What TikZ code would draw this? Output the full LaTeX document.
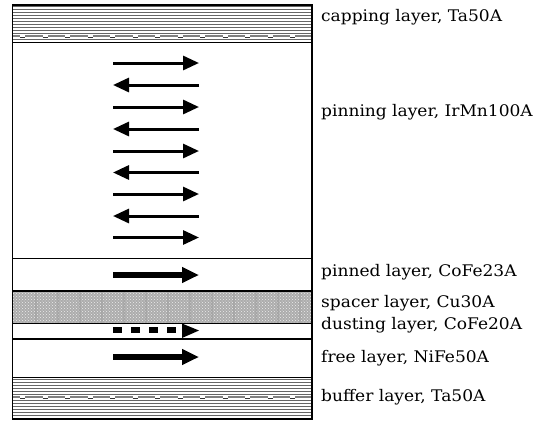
\documentclass[tikz,border=0pt]{standalone}
\usepackage{fontspec}
\setmainfont{DejaVu Serif}
\usetikzlibrary{arrows.meta,patterns}
\newcommand{\wide}[1]{\scalebox{1.065}[1]{#1}}
\begin{document}
\begin{tikzpicture}[x=1pt,y=-1pt,
  layer/.style={draw=black,line width=1.3pt,inner sep=0pt,outer sep=0pt},
  hatch/.style={draw=black!60,line width=1.3pt},
  lbl/.style={anchor=west,inner sep=0pt,font=\fontsize{16}{18}\selectfont},
  thinarrow/.style={line width=3pt,-{Triangle[length=16pt,width=14pt]}},
  thickarrow/.style={line width=5.5pt,-{Triangle[length=17pt,width=15pt]}}]
\useasboundingbox (0,0) rectangle (544,421);
% capping layer
\fill[white] (12.5,5) rectangle (312,42.5);
\foreach \y in {6.5,9.5,...,41} \draw[hatch] (12.5,\y) -- (312,\y);
\draw[draw=black!50,line width=2.5pt] (12.5,36) -- (312,36);
\foreach \x in {20,42.5,...,300} {\fill[white] (\x,34.8) rectangle (\x+5,36.6); \draw[black!80,line width=0.6pt] (\x,37) -- (\x+5,37);}
\node[layer,minimum width=299.5pt,minimum height=37.5pt,anchor=north west] (cap) at (12.5,5) {};
% pinning
\node[layer,minimum width=299.5pt,minimum height=216pt,anchor=north west] (pin) at (12.5,42.5) {};
% pinned
\node[layer,minimum width=299.5pt,minimum height=32.5pt,anchor=north west] (pinned) at (12.5,258.5) {};
% spacer
\node[layer,fill=gray!65,minimum width=299.5pt,minimum height=32.5pt,anchor=north west] (spacer) at (12.5,291) {};
\fill[pattern=crosshatch dots,pattern color=white!85!gray] (12.5,291.6) rectangle (312,322.9);
\foreach \x in {35,57,...,300} \fill[gray!80,opacity=0.4] (\x,291.6) rectangle (\x+2,322.9);
\draw[line width=1.3pt] (spacer.north west) rectangle (spacer.south east);
% dusting
\node[layer,minimum width=299.5pt,minimum height=15.5pt,anchor=north west] (dust) at (12.5,323.5) {};
% free
\node[layer,minimum width=299.5pt,minimum height=38.5pt,anchor=north west] (free) at (12.5,339) {};
% buffer
\fill[white] (12.5,377.5) rectangle (312,419);
\foreach \y in {379.5,382.5,...,418} \draw[hatch] (12.5,\y) -- (312,\y);
\draw[draw=black!50,line width=2.5pt] (12.5,397) -- (312,397);
\foreach \x in {20,42.5,...,300} {\fill[white] (\x,395.8) rectangle (\x+5,397.6); \draw[black!80,line width=0.6pt] (\x,398) -- (\x+5,398);}
\node[layer,minimum width=299.5pt,minimum height=41.5pt,anchor=north west] (buf) at (12.5,377.5) {};
% outer sides
\draw[line width=2pt] (cap.north east) -- (buf.south east);
\draw[line width=1.3pt] (cap.north west) -- (buf.south west);
% arrows pinning layer
\foreach \y [count=\i] in {63,85,107,129,151,172.5,194,216,237.5} {
  \ifodd\i
    \draw[thinarrow] (113,\y) -- (199,\y);
  \else
    \draw[thinarrow] (199,\y) -- (113,\y);
  \fi
}
% pinned arrow
\draw[thickarrow] (113,275) -- (199,275);
% dusting arrow
\foreach \x in {113,131,149,167} \fill (\x,327) rectangle (\x+8.5,332.5);
\fill (182,323.5) -- (199,330.5) -- (182,338) -- cycle;
% free arrow
\draw[thickarrow] (113,357) -- (199,357);
% labels
\node[lbl] (lcap) at (321,17) {\wide{capping layer, Ta50A}};
\node[lbl] (lpin) at (321,112) {\wide{pinning layer, IrMn100A}};
\node[lbl] (lpinned) at (321,272) {\wide{pinned layer, CoFe23A}};
\node[lbl] (lspacer) at (321,303) {\wide{spacer layer, Cu30A}};
\node[lbl] (ldust) at (321,325) {\wide{dusting layer, CoFe20A}};
\node[lbl] (lfree) at (321,358) {\wide{free layer, NiFe50A}};
\node[lbl] (lbuf) at (321,397) {\wide{buffer layer, Ta50A}};
\end{tikzpicture}
\end{document}
